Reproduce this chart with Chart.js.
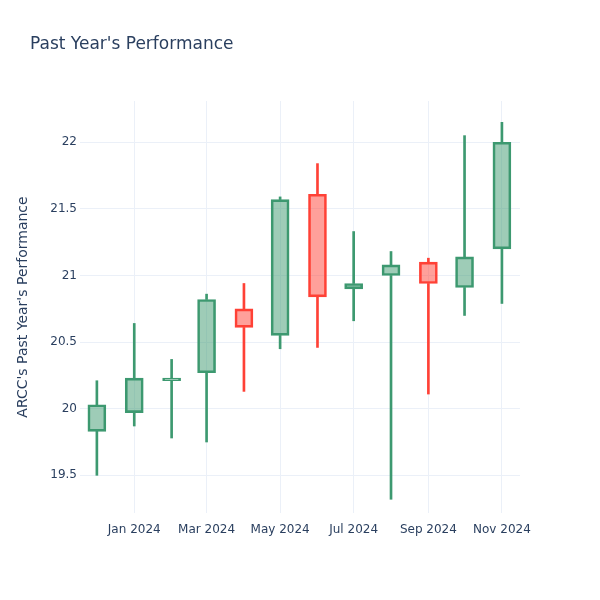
<!DOCTYPE html>
<html lang="en">
<head>
    <meta charset="UTF-8">
    <title>Past Year's Performance</title>
    <script src="https://cdn.jsdelivr.net/npm/chart.js"></script>
    <style>
        body {
            margin: 0;
            background-color: #fff;
        }
        .chart-container {
            position: relative;
            width: 600px;
            height: 600px;
        }
    </style>
</head>
<body>
    <div class="chart-container">
        <canvas id="candleChart"></canvas>
    </div>
    <script>
        // monthly candles, ARCC
        const months = [
            "2023-12-01", "2024-01-01", "2024-02-01", "2024-03-01", "2024-04-01", "2024-05-01",
            "2024-06-01", "2024-07-01", "2024-08-01", "2024-09-01", "2024-10-01", "2024-11-01"
        ];
        const opens  = [19.83, 19.97, 20.21, 20.27, 20.75, 20.55, 21.61, 20.90, 21.00, 21.10, 20.91, 21.20];
        const highs  = [20.21, 20.64, 20.37, 20.86, 20.94, 21.59, 21.84, 21.33, 21.18, 21.13, 22.05, 22.15];
        const lows   = [19.50, 19.87, 19.78, 19.75, 20.13, 20.45, 20.46, 20.66, 19.32, 20.11, 20.70, 20.79];
        const closes = [20.03, 20.23, 20.23, 20.82, 20.61, 21.57, 20.84, 20.94, 21.08, 20.94, 21.14, 22.00];

        const xTickDates = ["2024-01-01", "2024-03-01", "2024-05-01", "2024-07-01", "2024-09-01", "2024-11-01"];
        const xTickLabels = ["Jan 2024", "Mar 2024", "May 2024", "Jul 2024", "Sep 2024", "Nov 2024"];
        const yTicks = [19.5, 20, 20.5, 21, 21.5, 22];

        const upLine = '#3D9970', upFill = 'rgba(61,153,112,0.5)';
        const downLine = '#FF4136', downFill = 'rgba(255,65,54,0.5)';
        const textColor = '#2a3f5f';
        const gridColor = '#EBF0F8';
        const fontFamily = '"DejaVu Sans", sans-serif';

        const xs = months.map(m => Date.parse(m));
        const isUp = closes.map((c, i) => c >= opens[i]);
        const lineColors = isUp.map(u => u ? upLine : downLine);
        const fillColors = isUp.map(u => u ? upFill : downFill);

        const titlePlugin = {
            id: 'plotTitle',
            afterDraw(chart) {
                const ctx = chart.ctx;
                ctx.save();
                ctx.font = '17px ' + fontFamily;
                ctx.fillStyle = textColor;
                ctx.textBaseline = 'middle';
                ctx.textAlign = 'left';
                ctx.fillText("Past Year's Performance", 30, 45);
                ctx.restore();
            }
        };

        const ctx = document.getElementById('candleChart').getContext('2d');
        new Chart(ctx, {
            type: 'bar',
            data: {
                datasets: [
                    {
                        label: 'body',
                        data: xs.map((x, i) => ({ x: x, y: [opens[i], closes[i]] })),
                        backgroundColor: fillColors,
                        borderColor: lineColors,
                        borderWidth: 2,
                        borderSkipped: false,
                        barThickness: 18
                    },
                    {
                        label: 'upper wick',
                        data: xs.map((x, i) => ({ x: x, y: [Math.max(opens[i], closes[i]), highs[i]] })),
                        backgroundColor: lineColors,
                        borderWidth: 0,
                        barThickness: 2
                    },
                    {
                        label: 'lower wick',
                        data: xs.map((x, i) => ({ x: x, y: [lows[i], Math.min(opens[i], closes[i])] })),
                        backgroundColor: lineColors,
                        borderWidth: 0,
                        barThickness: 2
                    }
                ]
            },
            options: {
                responsive: true,
                maintainAspectRatio: false,
                animation: false,
                grouped: false,
                layout: {
                    padding: { top: 101, right: 80, bottom: 0, left: 0 }
                },
                plugins: {
                    legend: { display: false },
                    tooltip: { enabled: false }
                },
                scales: {
                    x: {
                        type: 'linear',
                        offset: false,
                        min: Date.parse("2023-11-17"),
                        max: Date.parse("2024-11-16"),
                        afterBuildTicks: axis => {
                            axis.ticks = xTickDates.map(d => ({ value: Date.parse(d) }));
                        },
                        afterFit: axis => { axis.height = 87; },
                        ticks: {
                            color: textColor,
                            font: { family: fontFamily, size: 12 },
                            padding: 10,
                            maxRotation: 0,
                            autoSkip: false,
                            callback: (value) => {
                                const idx = xTickDates.findIndex(d => Date.parse(d) === value);
                                return idx >= 0 ? xTickLabels[idx] : '';
                            }
                        },
                        grid: { color: gridColor, drawTicks: false, offset: false },
                        border: { display: false }
                    },
                    y: {
                        min: 19.217,
                        max: 22.31,
                        afterBuildTicks: axis => {
                            axis.ticks = yTicks.map(v => ({ value: v }));
                        },
                        afterFit: axis => { axis.width = 80; },
                        ticks: {
                            color: textColor,
                            font: { family: fontFamily, size: 12 },
                            padding: 3,
                            autoSkip: false,
                            callback: v => String(v)
                        },
                        grid: { color: gridColor, drawTicks: false },
                        border: { display: false },
                        title: {
                            display: true,
                            text: "ARCC's Past Year's Performance",
                            color: textColor,
                            font: { family: fontFamily, size: 14 },
                            padding: { top: 15, bottom: 0 }
                        }
                    }
                }
            },
            plugins: [titlePlugin]
        });
    </script>
</body>
</html>
